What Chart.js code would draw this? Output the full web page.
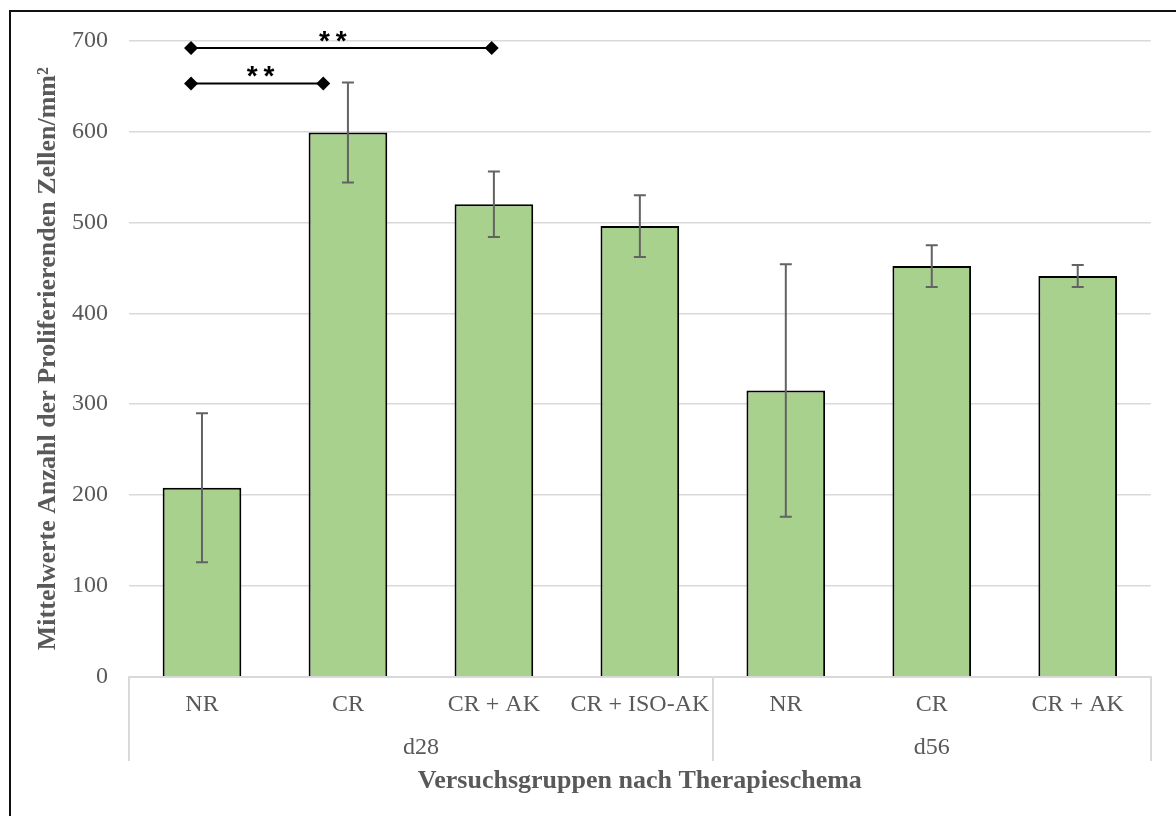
<!DOCTYPE html>
<html>
<head>
<meta charset="utf-8">
<script src="https://cdn.jsdelivr.net/npm/chart.js@4.4.1/dist/chart.umd.min.js"></script>
<style>
  html, body { margin: 0; padding: 0; background: #fff; overflow: hidden; }
  #wrap { position: relative; width: 1176px; height: 816px; }
  #wrap canvas { position: absolute; left: 0; top: 0; }
  #frame {
    position: absolute; left: 9px; top: 10px; width: 1200px; height: 900px;
    border-top: 2px solid #111; border-left: 2px solid #111; pointer-events: none;
  }
</style>
</head>
<body>
<div id="wrap">
  <canvas id="chart" width="1176" height="816"></canvas>
  <div id="frame"></div>
</div>
<script>
// Treatment groups (first axis level) and time points (second level)
const categories = ['NR', 'CR', 'CR + AK', 'CR + ISO-AK', 'NR', 'CR', 'CR + AK'];
const groupLabels = ['d28', 'd56'];
const groupCenters = [1.5, 5];       // centre of each time-point block, in category index units
const groupBounds = [0, 4, 7];       // category boundaries that get a separator line

// Mean proliferating cells per mm² and their error
const meanValues = [208, 599, 520, 496, 315, 452, 441];
const errorValues = [82, 55, 36, 34, 139, 23, 12];

// Value axis
const yMin = 0;
const yMax = 700;
const yStep = 100;

// Significance brackets (x in category index units, y in data units)
const bracketFrom = [-0.075, -0.075];
const bracketTo = [1.985, 0.831];
const bracketLevel = [692, 653];
const bracketStarX = [0.896, 0.401];
const bracketMark = ['**', '**'];

const SERIF = '"Liberation Serif", "Times New Roman", serif';
const TEXT_GREY = '#595959';
const GRID_GREY = '#d9d9d9';

// Second axis level: half-category slots, the time-point label sits in the slot at its block centre
const groupSlots = Array.from({ length: categories.length * 2 + 1 }, (_, k) => {
  const j = groupCenters.findIndex(c => (c + 0.5) * 2 === k);
  return j >= 0 ? groupLabels[j] : '';
});

// Error bars on top of each column
const errorBars = {
  id: 'errorBars',
  afterDatasetsDraw(chart) {
    const meta = chart.getDatasetMeta(0);
    const y = chart.scales.y;
    const ctx = chart.ctx;
    const cap = 6;
    ctx.save();
    ctx.strokeStyle = '#636363';
    ctx.lineWidth = 2;
    meta.data.forEach((bar, i) => {
      const hi = y.getPixelForValue(meanValues[i] + errorValues[i]);
      const lo = y.getPixelForValue(meanValues[i] - errorValues[i]);
      ctx.beginPath();
      ctx.moveTo(bar.x, hi); ctx.lineTo(bar.x, lo);
      ctx.moveTo(bar.x - cap, hi); ctx.lineTo(bar.x + cap, hi);
      ctx.moveTo(bar.x - cap, lo); ctx.lineTo(bar.x + cap, lo);
      ctx.stroke();
    });
    ctx.restore();
  }
};

// Significance brackets: line with diamond ends and asterisks above
const brackets = {
  id: 'brackets',
  afterDatasetsDraw(chart) {
    const xs = chart.scales.xs;
    const y = chart.scales.y;
    const ctx = chart.ctx;
    const r = 7;
    ctx.save();
    ctx.strokeStyle = '#000';
    ctx.fillStyle = '#000';
    ctx.lineWidth = 2;
    bracketLevel.forEach((lvl, i) => {
      const x1 = xs.getPixelForValue(bracketFrom[i]);
      const x2 = xs.getPixelForValue(bracketTo[i]);
      const py = y.getPixelForValue(lvl);
      ctx.beginPath();
      ctx.moveTo(x1, py); ctx.lineTo(x2, py);
      ctx.stroke();
      [x1, x2].forEach(px => {
        ctx.beginPath();
        ctx.moveTo(px, py - r); ctx.lineTo(px + r, py);
        ctx.lineTo(px, py + r); ctx.lineTo(px - r, py);
        ctx.closePath();
        ctx.fill();
      });
    });
    ctx.font = 'bold 28px "Liberation Sans", Arial, sans-serif';
    ctx.textAlign = 'center';
    ctx.textBaseline = 'alphabetic';
    bracketMark.forEach((mark, i) => {
      const cx = xs.getPixelForValue(bracketStarX[i]);
      const cy = y.getPixelForValue(bracketLevel[i]) + 2;
      const n = mark.length;
      for (let k = 0; k < n; k++) {
        ctx.fillText(mark[k], cx + (k - (n - 1) / 2) * 16.7, cy);
      }
    });
    ctx.restore();
  }
};

new Chart(document.getElementById('chart'), {
  type: 'bar',
  data: {
    labels: categories,
    datasets: [
      {
        data: meanValues,
        backgroundColor: '#a9d18e',
        borderColor: '#000',
        borderWidth: 2,
        barPercentage: 0.539,
        categoryPercentage: 1.0,
        grouped: false
      }
    ]
  },
  options: {
    responsive: false,
    animation: false,
    devicePixelRatio: 1,
    layout: { padding: { top: 40.7, right: 25.3, bottom: 0, left: 0 } },
    plugins: { legend: { display: false }, tooltip: { enabled: false } },
    scales: {
      x: {
        position: 'bottom',
        weight: 0,
        offset: true,
        border: { display: true, color: GRID_GREY, width: 2 },
        grid: {
          display: true,
          drawOnChartArea: false,
          drawTicks: true,
          offset: true,
          tickLength: 84.3,
          lineWidth: 2,
          color: (c) => {
            const i = c.index === undefined ? categories.length : c.index;
            return groupBounds.includes(i) ? GRID_GREY : 'rgba(0,0,0,0)';
          }
        },
        ticks: {
          color: TEXT_GREY,
          font: { family: SERIF, size: 24 },
          padding: -70.7,
          maxRotation: 0,
          autoSkip: false
        },
        afterFit: (s) => { s.height = 55; }
      },
      xg: {
        type: 'category',
        labels: groupSlots,
        position: 'bottom',
        weight: 1,
        offset: false,
        border: { display: false },
        grid: { display: false, drawTicks: false, offset: false },
        ticks: {
          color: TEXT_GREY,
          font: { family: SERIF, size: 24 },
          padding: 1.9,
          maxRotation: 0,
          minRotation: 0,
          autoSkip: false
        },
        title: {
          display: true,
          text: 'Versuchsgruppen nach Therapieschema',
          color: TEXT_GREY,
          font: { family: SERIF, size: 26, weight: 'bold' },
          padding: { top: 0, bottom: 19.4 }
        },
        afterFit: (s) => { s.height = 84.3; }
      },
      xs: {
        type: 'linear',
        display: false,
        offset: false,
        grid: { offset: false },
        min: -0.5,
        max: 6.5
      },
      y: {
        min: yMin,
        max: yMax,
        border: { display: false },
        grid: { color: GRID_GREY, lineWidth: 1.5, drawTicks: false },
        ticks: {
          stepSize: yStep,
          color: TEXT_GREY,
          font: { family: SERIF, size: 24 },
          padding: 21
        },
        title: {
          display: true,
          text: 'Mittelwerte Anzahl der Proliferierenden Zellen/mm²',
          color: TEXT_GREY,
          font: { family: SERIF, size: 26, weight: 'bold' },
          padding: { top: 32.4, bottom: 0 }
        },
        afterFit: (s) => { s.width = 129; }
      }
    }
  },
  plugins: [errorBars, brackets]
});
</script>
</body>
</html>
